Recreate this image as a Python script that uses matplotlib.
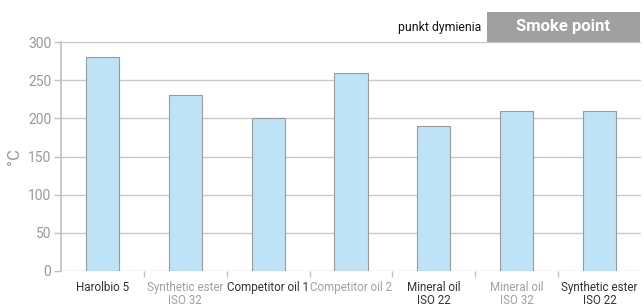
import matplotlib
matplotlib.use("Agg")
import matplotlib.pyplot as plt
import numpy as np
from matplotlib.patches import Rectangle

categories = ["Harolbio 5", "Synthetic ester\nISO 32", "Competitor oil 1", "Competitor oil 2",
              "Mineral oil\nISO 22", "Mineral oil\nISO 32", "Synthetic ester\nISO 22"]
values = [280, 230, 200, 260, 190, 210, 210]
label_colors = ["#333333", "#a0a0a0", "#333333", "#a0a0a0", "#333333", "#a0a0a0", "#333333"]
yticks = [0, 50, 100, 150, 200, 250, 300]

plt.rcParams['font.family'] = ['Roboto', 'DejaVu Sans']

fig = plt.figure(figsize=(6.44, 3.08), dpi=100)
ax = fig.add_axes([61/644, 1-271/308, 580/644, 229/308])

x = np.arange(len(categories))
ax.set_axisbelow(True)
ax.yaxis.grid(True, color="#c8c8c8", linewidth=1)
ax.bar(x, values, width=0.4, color="#bee3f6", edgecolor="#9a9a9a", linewidth=0.8, zorder=2)

ax.set_xlim(-0.5, len(categories) - 0.5)
ax.set_ylim(0, 300)
ax.set_yticks(yticks)
ax.tick_params(axis='y', colors="#c0c0c0", labelcolor="#999999", labelsize=10, length=5, width=1, pad=2)

ax.set_xticks(np.arange(0.5, len(categories) - 0.5, 1))
ax.set_xticklabels([])
ax.tick_params(axis='x', colors="#c0c0c0", length=4, width=1)
for i, (c, col) in enumerate(zip(categories, label_colors)):
    ax.text(i, -13, c, ha='center', va='top', color=col, fontsize=8.4,
            linespacing=1.05, transform=ax.transData, clip_on=False)

for s in ['top', 'right', 'bottom']:
    ax.spines[s].set_visible(False)
ax.spines['left'].set_color("#c0c0c0")
ax.spines['left'].set_linewidth(1.2)

ax.set_ylabel("°C", color="#999999", fontsize=12, labelpad=4)

# header
fig.patches.append(Rectangle((487/644, 1-42/308), 153/644, 30/308, transform=fig.transFigure,
                             facecolor="#a0a0a0", edgecolor="none"))
fig.text(563/644, 1-27/308, "Smoke point", color="white", fontsize=12, fontweight='bold',
         ha='center', va='center')
fig.text(481/644, 1-27/308, "punkt dymienia", color="#111111", fontsize=8.8,
         ha='right', va='center')

fig.savefig("out.png", dpi=100)
